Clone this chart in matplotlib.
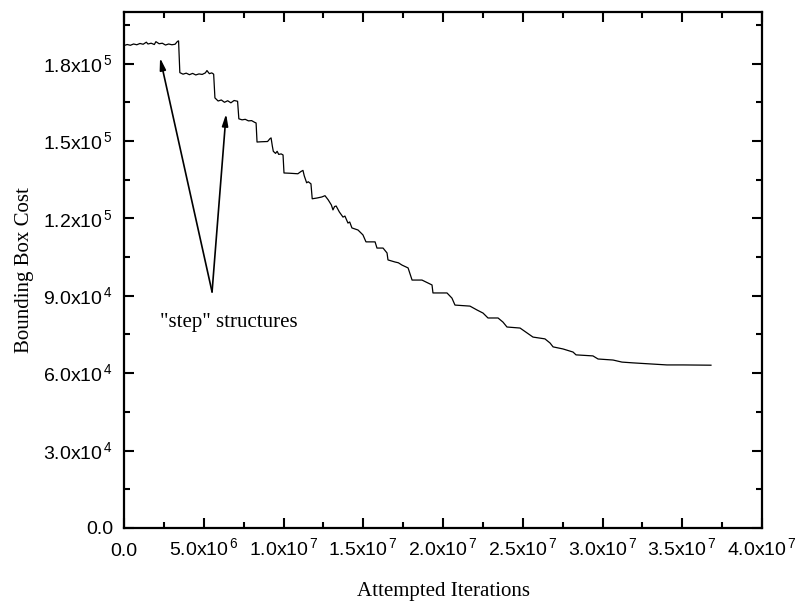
import matplotlib
matplotlib.use("Agg")
import matplotlib.pyplot as plt
from matplotlib.ticker import MultipleLocator, FuncFormatter

plt.rcParams['font.family'] = 'Liberation Sans'
plt.rcParams['mathtext.fontset'] = 'custom'
plt.rcParams['mathtext.rm'] = 'Liberation Sans'

# iterations in millions, cost in thousands
iters_m = [0.0, 0.2, 0.4, 0.6, 0.8, 1.0, 1.2, 1.4, 1.5, 1.7, 1.9, 2.0, 2.2, 2.4, 2.6, 2.8, 3.0, 3.2, 3.35, 3.42,
           3.5, 3.7, 3.9, 4.1, 4.3, 4.5, 4.7, 4.9, 5.1, 5.2, 5.35, 5.5, 5.62,
           5.7, 5.9, 6.1, 6.3, 6.5, 6.7, 6.9, 7.12,
           7.2, 7.4, 7.6, 7.8, 8.0, 8.2, 8.28,
           8.34, 8.6, 9.0, 9.15, 9.22, 9.3, 9.36, 9.5, 9.6, 9.7, 9.85, 9.97,
           10.03, 10.4, 10.9, 11.1, 11.22, 11.3, 11.45, 11.55, 11.72,
           11.8, 12.1, 12.4, 12.6, 12.8, 12.92, 13.0, 13.1, 13.2, 13.3, 13.5, 13.73,
           13.85, 14.04, 14.15, 14.29, 14.67, 14.98, 15.17, 15.74, 15.86, 16.24, 16.49, 16.55,
           16.99, 17.2, 17.43, 17.81, 18.06, 18.68, 19.31, 19.37, 20.25, 20.56, 20.75,
           21.69, 22.13, 22.51, 22.82, 23.45, 23.76, 24.01, 24.83, 25.27, 25.64,
           26.39, 26.71, 26.9, 27.52, 28.15, 28.34, 29.4, 29.72, 30.66, 31.22,
           31.91, 32.98, 34.04, 35.05, 36.8]
cost_k = [187.0, 187.4, 187.1, 187.6, 187.3, 187.8, 187.5, 188.3, 187.6, 187.9, 187.4, 188.5, 187.7, 187.9, 187.2, 187.6, 187.3, 187.5, 188.6, 188.8,
          176.5, 175.9, 176.3, 175.7, 176.2, 175.6, 176.0, 175.8, 176.4, 177.3, 176.1, 176.4, 175.9,
          166.7, 165.5, 165.9, 165.0, 165.6, 164.8, 165.7, 165.4,
          158.6, 158.2, 158.4, 157.8, 157.9, 157.2, 157.0,
          149.6, 149.7, 149.8, 150.9, 151.2, 148.0, 146.0, 145.2, 146.0, 144.8, 145.0, 144.6,
          137.6, 137.5, 137.3, 138.2, 138.6, 136.5, 133.8, 134.2, 133.4,
          127.6, 127.9, 128.3, 128.8, 127.2, 126.0, 125.2, 123.3, 124.6, 124.8, 122.5, 120.5,
          120.9, 118.2, 118.6, 116.3, 115.5, 113.6, 110.9, 110.9, 108.5, 108.5, 106.6, 103.9,
          103.1, 102.8, 101.9, 100.8, 96.1, 96.1, 94.2, 91.1, 91.1, 89.1, 86.4,
          86.0, 84.5, 83.3, 81.4, 81.4, 79.8, 77.9, 77.5, 75.6, 74.0,
          73.3, 71.7, 70.2, 69.4, 68.2, 67.1, 66.7, 65.5, 65.1, 64.3,
          64.0, 63.6, 63.2, 63.2, 63.1]

xticks = [0, 5e6, 1e7, 1.5e7, 2e7, 2.5e7, 3e7, 3.5e7, 4e7]
yticks = [0, 3e4, 6e4, 9e4, 1.2e5, 1.5e5, 1.8e5]


def sci(v, pos):
    if v == 0:
        return '0.0'
    e = 0
    m = v
    while m >= 10:
        m /= 10
        e += 1
    return '%.1fx10$^{\\,%d}$' % (m, e)


fig = plt.figure(figsize=(7.96, 6.03), dpi=100)
ax = fig.add_axes([0.1558, 0.1244, 0.8015, 0.8557])

x = [v * 1e6 for v in iters_m]
y = [v * 1e3 for v in cost_k]
ax.plot(x, y, color='black', lw=0.9)

ax.set_xlim(0, 4e7)
ax.set_ylim(0, 2e5)
ax.set_xticks(xticks)
ax.set_yticks(yticks)
ax.xaxis.set_minor_locator(MultipleLocator(2.5e6))
ax.yaxis.set_minor_locator(MultipleLocator(1.5e4))
ax.xaxis.set_major_formatter(FuncFormatter(sci))
ax.yaxis.set_major_formatter(FuncFormatter(sci))

ax.tick_params(which='both', direction='in', top=True, right=True, width=1.5, labelsize=14)
ax.tick_params(which='major', length=7)
ax.tick_params(which='minor', length=4)
ax.tick_params(axis='x', pad=20)
ax.tick_params(axis='y', pad=8)
for lab in ax.get_xticklabels():
    lab.set_verticalalignment('baseline')
for s in ax.spines.values():
    s.set_linewidth(1.6)

ax.set_xlabel('Attempted Iterations', family='Liberation Serif', fontsize=15, labelpad=16)
ax.set_ylabel('Bounding Box Cost', family='Liberation Serif', fontsize=15, labelpad=6)

tail = (5.52e6, 9.15e4)
arrow = dict(arrowstyle='-|>,head_length=0.7,head_width=0.18', color='black', lw=1.2, shrinkA=0, shrinkB=0)
ax.annotate('', xy=(2.26e6, 1.822e5), xytext=tail, arrowprops=arrow)
ax.annotate('', xy=(6.4e6, 1.605e5), xytext=tail, arrowprops=arrow)
ax.text(2.26e6, 7.95e4, '"step" structures', family='Liberation Serif', fontsize=15, ha='left', va='center')

fig.savefig('out.png', dpi=100)
